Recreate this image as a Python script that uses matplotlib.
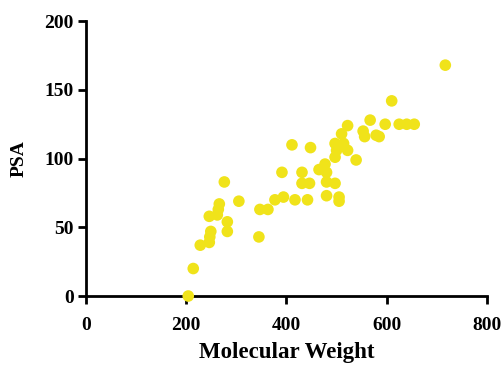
import numpy as np
import matplotlib
matplotlib.use('Agg')
import matplotlib.pyplot as plt

# values
mol_weight = [204, 214, 228, 246, 247, 249, 246, 262, 264, 266, 276, 282, 282,
              305, 345, 347, 363, 377, 394, 391, 411, 417, 431, 431, 442, 446,
              448, 465, 477, 480, 480, 480, 497, 505, 505, 497, 500, 497, 514,
              510, 522, 522, 539, 553, 556, 567, 579, 585, 597, 610, 625, 640,
              655, 717]
psa = [0, 20, 37, 39, 43, 47, 58, 59, 63, 67, 83, 54, 47,
       69, 43, 63, 63, 70, 72, 90, 110, 70, 90, 82, 70, 82,
       108, 92, 96, 90, 83, 73, 82, 72, 69, 101, 106, 111, 111,
       118, 124, 106, 99, 120, 116, 128, 117, 116, 125, 142, 125, 125,
       125, 168]
x_ticks = [0, 200, 400, 600, 800]
y_ticks = [0, 50, 100, 150, 200]

plt.rcParams['font.family'] = ['Liberation Serif', 'DejaVu Serif']
plt.rcParams['font.weight'] = 'bold'

fig = plt.figure(figsize=(5.03, 3.65), dpi=100)
ax = fig.add_axes([0.171, 0.189, 0.797, 0.753])

ax.scatter(mol_weight, psa, s=70, color='#f0e31a', edgecolors='none',
           zorder=5, clip_on=False)

ax.set_xlim(0, 800)
ax.set_ylim(0, 200)
ax.set_xticks(x_ticks)
ax.set_yticks(y_ticks)

for side in ['top', 'right']:
    ax.spines[side].set_visible(False)
for side in ['left', 'bottom']:
    ax.spines[side].set_linewidth(2)

ax.tick_params(axis='both', direction='out', length=6, width=2,
               labelsize=14, pad=3)
ax.tick_params(axis='x', pad=9)
for lbl in ax.get_xticklabels() + ax.get_yticklabels():
    lbl.set_fontweight('bold')

ax.set_xlabel('Molecular Weight', fontsize=16.5, fontweight='bold', labelpad=6)
ax.set_ylabel('PSA', fontsize=14, fontweight='bold', labelpad=12)

fig.savefig('out.png', dpi=100)
